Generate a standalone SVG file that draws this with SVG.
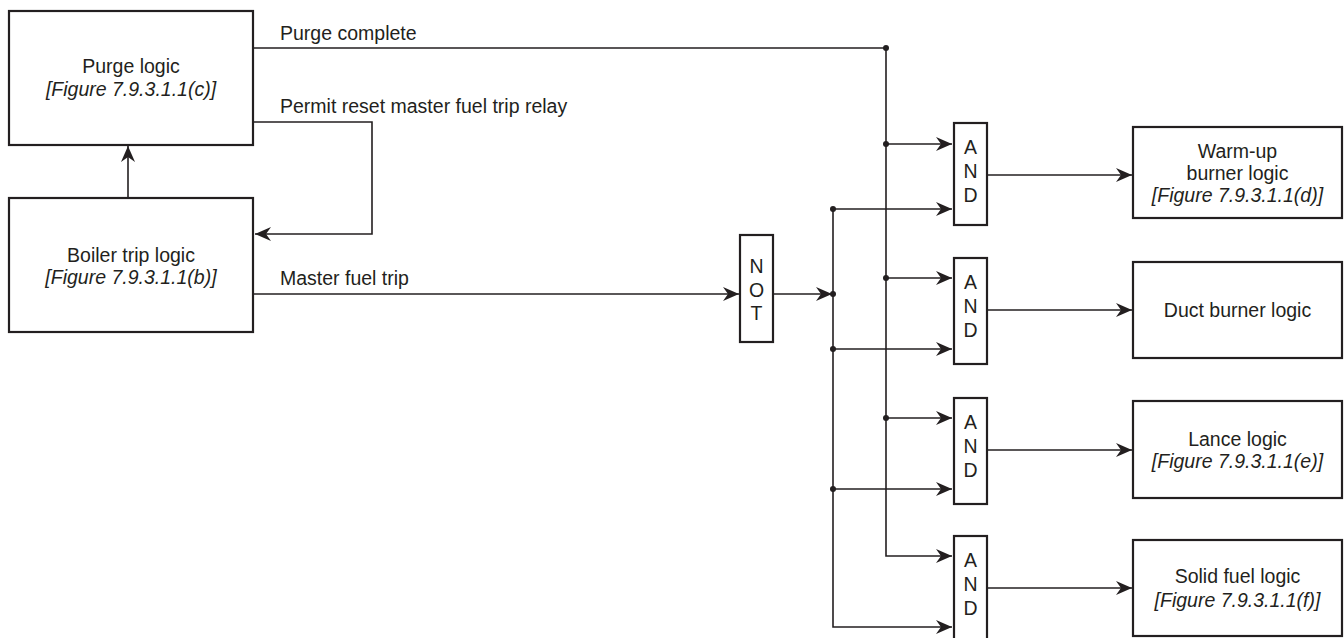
<svg xmlns="http://www.w3.org/2000/svg" width="1344" height="638" viewBox="0 0 1344 638">
<style>
.box{fill:#fff;stroke:#231f20;stroke-width:2.2}
.ln{fill:none;stroke:#231f20;stroke-width:1.6}
.t{font-family:"Liberation Sans",Arial,sans-serif;font-size:19.5px;fill:#231f20}
.c{text-anchor:middle}
.i{font-style:italic}
.dot{fill:#231f20}
</style>
<defs>
<marker id="ah" markerUnits="userSpaceOnUse" markerWidth="18" markerHeight="16" refX="16" refY="8" orient="auto">
<path d="M0,1 L16,8 L0,15 L5,8 z" fill="#231f20"/>
</marker>
</defs>
<rect width="1344" height="638" fill="#fff"/>
<g id="connectors">
<path class="ln" d="M253,48 H886 V556 H952" marker-end="url(#ah)"/>
<path class="ln" d="M128,198 V146" marker-end="url(#ah)"/>
<path class="ln" d="M253,122 H372 V234 H255" marker-end="url(#ah)"/>
<path class="ln" d="M253,294 H739" marker-end="url(#ah)"/>
<path class="ln" d="M773,294 H832" marker-end="url(#ah)"/>
<path class="ln" d="M833,209 V627 H952" marker-end="url(#ah)"/>
<path class="ln" d="M833,209 H952" marker-end="url(#ah)"/>
<path class="ln" d="M833,349 H952" marker-end="url(#ah)"/>
<path class="ln" d="M833,489 H952" marker-end="url(#ah)"/>
<path class="ln" d="M886,144 H952" marker-end="url(#ah)"/>
<path class="ln" d="M886,278 H952" marker-end="url(#ah)"/>
<path class="ln" d="M886,418 H952" marker-end="url(#ah)"/>
<path class="ln" d="M987,175 H1132" marker-end="url(#ah)"/>
<path class="ln" d="M987,310 H1132" marker-end="url(#ah)"/>
<path class="ln" d="M987,450 H1132" marker-end="url(#ah)"/>
<path class="ln" d="M987,588 H1132" marker-end="url(#ah)"/>
<circle class="dot" cx="886" cy="48" r="3"/>
<circle class="dot" cx="886" cy="144" r="3"/>
<circle class="dot" cx="886" cy="278" r="3"/>
<circle class="dot" cx="886" cy="418" r="3"/>
<circle class="dot" cx="833" cy="209" r="3"/>
<circle class="dot" cx="833" cy="294" r="3"/>
<circle class="dot" cx="833" cy="349" r="3"/>
<circle class="dot" cx="833" cy="489" r="3"/>
<text class="t" x="280" y="40">Purge complete</text>
<text class="t" x="280" y="113">Permit reset master fuel trip relay</text>
<text class="t" x="280" y="285">Master fuel trip</text>
</g>
<g id="purge">
<rect class="box" x="9" y="11" width="244" height="134"/>
<text class="t c" x="131" y="73">Purge logic</text>
<text class="t c i" x="131" y="96">[Figure 7.9.3.1.1(c)]</text>
</g>
<g id="boiler">
<rect class="box" x="9" y="198" width="244" height="134"/>
<text class="t c" x="131" y="262">Boiler trip logic</text>
<text class="t c i" x="131" y="284">[Figure 7.9.3.1.1(b)]</text>
</g>
<g id="not">
<rect class="box" x="740" y="235" width="33" height="107"/>
<text class="t c" x="756.5" y="273">N</text>
<text class="t c" x="756.5" y="297">O</text>
<text class="t c" x="756.5" y="320">T</text>
</g>
<g id="and1">
<rect class="box" x="954" y="123" width="33" height="102"/>
<text class="t c" x="970.5" y="154">A</text>
<text class="t c" x="970.5" y="178">N</text>
<text class="t c" x="970.5" y="202">D</text>
</g>
<g id="and2">
<rect class="box" x="954" y="258" width="33" height="106"/>
<text class="t c" x="970.5" y="289">A</text>
<text class="t c" x="970.5" y="313">N</text>
<text class="t c" x="970.5" y="337">D</text>
</g>
<g id="and3">
<rect class="box" x="954" y="398" width="33" height="106"/>
<text class="t c" x="970.5" y="429">A</text>
<text class="t c" x="970.5" y="453">N</text>
<text class="t c" x="970.5" y="477">D</text>
</g>
<g id="and4">
<rect class="box" x="954" y="536" width="33" height="106"/>
<text class="t c" x="970.5" y="567">A</text>
<text class="t c" x="970.5" y="591">N</text>
<text class="t c" x="970.5" y="615">D</text>
</g>
<g id="warmup">
<rect class="box" x="1133" y="127" width="209" height="91"/>
<text class="t c" x="1237.5" y="158">Warm-up</text>
<text class="t c" x="1237.5" y="180">burner logic</text>
<text class="t c i" x="1237.5" y="202">[Figure 7.9.3.1.1(d)]</text>
</g>
<g id="duct">
<rect class="box" x="1133" y="262" width="209" height="96"/>
<text class="t c" x="1237.5" y="317">Duct burner logic</text>
</g>
<g id="lance">
<rect class="box" x="1133" y="401" width="209" height="97"/>
<text class="t c" x="1237.5" y="446">Lance logic</text>
<text class="t c i" x="1237.5" y="468">[Figure 7.9.3.1.1(e)]</text>
</g>
<g id="solid">
<rect class="box" x="1133" y="540" width="209" height="96"/>
<text class="t c" x="1237.5" y="583">Solid fuel logic</text>
<text class="t c i" x="1237.5" y="607">[Figure 7.9.3.1.1(f)]</text>
</g>
</svg>
